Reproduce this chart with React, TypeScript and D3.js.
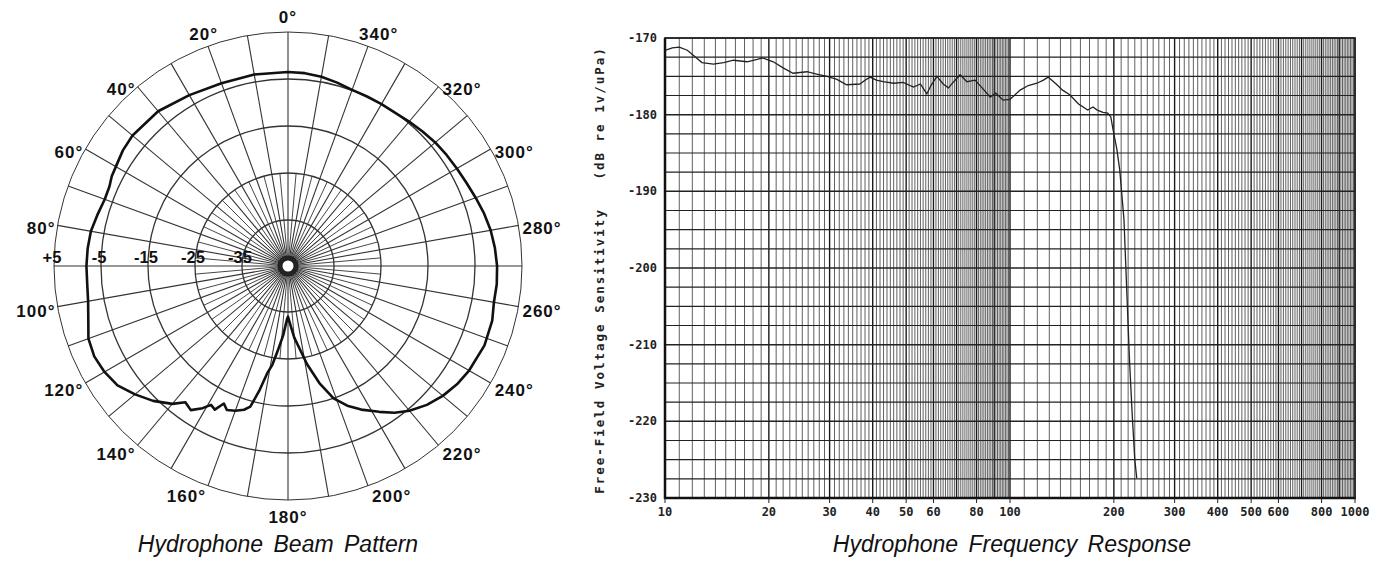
import React from 'react';
import * as d3 from 'd3';

// beam pattern: angle (deg, counter-clockwise from top) and level (dB)
const beamAngles = [0, 10, 20, 30, 40, 50, 55, 60, 63, 66, 70, 75, 80, 85, 90, 95, 100, 105, 110, 115, 120, 125, 130, 135, 140, 143, 146, 149, 151, 153, 155, 157, 160, 163, 165, 167, 169, 171, 173, 176, 179, 180, 182, 185, 188, 191, 195, 199, 203, 207, 212, 216, 220, 225, 230, 235, 240, 248, 255, 260, 265, 270, 275, 280, 285, 290, 295, 300, 305, 310, 315, 320, 325, 330, 335, 340, 345, 350, 355];
const beamLevels = [-3.5, -3.4, -3.4, -2.8, -1.8, -1.6, -1.9, -2.5, -2.7, -3.2, -3.3, -2.8, -2.2, -2.0, -1.9, -1.9, -1.6, -0.8, 0.4, 0.7, 0.3, -0.5, -2.3, -4.2, -6.5, -8.5, -7.8, -9.5, -11.0, -10.5, -12.5, -11.5, -12.0, -12.8, -13.8, -17.5, -21.5, -23.5, -26.5, -30.0, -33.5, -34.0, -32.5, -29.5, -27.0, -23.5, -19.0, -15.0, -12.5, -10.5, -8.2, -6.2, -4.6, -3.0, -1.8, -0.9, -0.3, 0.3, 0.2, -0.3, -0.2, -0.3, -0.6, -1.0, -1.6, -2.3, -2.9, -3.3, -3.6, -3.9, -4.3, -4.7, -5.0, -5.0, -5.0, -4.9, -4.4, -3.9, -3.6];
const ringLevels = [-35, -25, -15, -5, 5];
const ringLabels = ['-35', '-25', '-15', '-5', '+5'];
const angleLabels = [0, 20, 40, 60, 80, 100, 120, 140, 160, 180, 200, 220, 240, 260, 280, 300, 320, 340];

// frequency response
const freqHz = [10, 10.5, 11, 11.6, 12.2, 12.8, 13.8, 14.8, 15.8, 17.3, 18.5, 19.2, 20.6, 22, 23.5, 25.8, 27.5, 29.5, 31.5, 33.6, 36.7, 38, 39.3, 41, 42.9, 46, 49, 52.5, 55, 57.4, 59, 61.4, 64, 66.3, 69, 71.7, 75, 79.2, 83, 87.6, 91, 95.5, 100, 104, 107, 113, 119.7, 125, 129, 133, 136.8, 142, 149, 158, 168, 174, 179, 186, 192, 196, 199, 204, 208, 214, 218, 222, 226, 230, 233];
const sensitivity = [-171.6, -171.3, -171.2, -171.6, -172.4, -173.2, -173.4, -173.2, -172.9, -173.1, -172.8, -172.6, -173.1, -173.9, -174.6, -174.4, -174.7, -175.0, -175.4, -176.1, -176.0, -175.5, -175.1, -175.5, -175.7, -175.9, -175.8, -176.4, -176.0, -177.3, -176.2, -175.0, -176.0, -176.5, -175.6, -174.8, -175.7, -175.5, -176.5, -177.7, -177.2, -178.1, -178.0, -177.3, -176.8, -176.2, -175.9, -175.5, -175.1, -175.6, -176.1, -176.8, -177.4, -178.6, -179.4, -179.0, -179.4, -179.7, -179.8, -180.3, -182.0, -184.5, -187.2, -193.7, -203, -212, -219, -225, -227.4];
const yTicks = [-170, -180, -190, -200, -210, -220, -230];
const xTicks = [10, 20, 30, 40, 50, 60, 80, 100, 200, 300, 400, 500, 600, 800, 1000];

const W = 1383;
const H = 562;
const rad = (d: number) => (d * Math.PI) / 180;
const sans = 'Liberation Sans, Arial, sans-serif';
const mono = 'DejaVu Sans Mono, monospace';

const BeamPattern = () => {
  const cx = 288, cy = 266;
  const r = d3.scaleLinear().domain([-35, 5]).range([46, 234]);
  const outer = r(5);
  const inner5 = r(-25);
  const pt = (deg: number, rr: number) => [cx - rr * Math.sin(rad(deg)), cy - rr * Math.cos(rad(deg))];

  const rays10 = d3.range(0, 360, 10);
  const rays5 = d3.range(5, 360, 10);
  const data = beamAngles.map((a, i) => ({ a, v: beamLevels[i] }));
  const line = d3.lineRadial<{ a: number; v: number }>()
    .angle(d => -rad(d.a))
    .radius(d => r(d.v))
    .curve(d3.curveLinearClosed);

  // labels sit just outside the end of their ray
  const labelPos = (a: number) => {
    const [ex, ey] = pt(a, outer);
    if (a === 0) return { x: ex, y: ey - 15, anchor: 'middle' };
    if (a === 180) return { x: ex, y: ey + 17, anchor: 'middle' };
    const left = a < 180;
    const c = Math.cos(rad(a));
    if (a === 20 || a === 340) return { x: ex + (left ? 10 : -9), y: ey - 12, anchor: left ? 'end' : 'start' };
    const dy = 3 + 8 * Math.max(0, -c);
    return { x: ex + (left ? -2 : 4), y: ey + dy, anchor: left ? 'end' : 'start' };
  };

  return (
    <g>
      {ringLevels.map(v => (
        <circle key={v} cx={cx} cy={cy} r={r(v)} fill="none" stroke="#333" strokeWidth={v === 5 ? 1 : 1.3} />
      ))}
      {rays10.map(a => {
        const [x1, y1] = pt(a, 6);
        const [x2, y2] = pt(a, outer);
        return <line key={'a' + a} x1={x1} y1={y1} x2={x2} y2={y2} stroke="#333" strokeWidth={1.1} />;
      })}
      {rays5.map(a => {
        const [x1, y1] = pt(a, 6);
        const [x2, y2] = pt(a, inner5);
        return <line key={'b' + a} x1={x1} y1={y1} x2={x2} y2={y2} stroke="#333" strokeWidth={0.9} />;
      })}
      <circle cx={cx} cy={cy} r={8} fill="#fff" stroke="#222" strokeWidth={5} />
      <path d={line(data) || ''} transform={`translate(${cx},${cy})`} fill="none" stroke="#111" strokeWidth={2.6} strokeLinejoin="round" />
      {ringLevels.map((v, i) => (
        <text key={'rl' + v} x={cx - r(v) - 2} y={263} textAnchor="middle" fontFamily={sans} fontWeight="bold" fontSize={16.5} fill="#111">
          {ringLabels[i]}
        </text>
      ))}
      {angleLabels.map(a => {
        const p = labelPos(a);
        return (
          <text key={'al' + a} x={p.x} y={p.y} textAnchor={p.anchor} dominantBaseline="central" fontFamily={sans} fontWeight="bold" fontSize={17} letterSpacing={1} fill="#111">
            {a}°
          </text>
        );
      })}
      <text x={cx - 10} y={552} textAnchor="middle" fontFamily={sans} fontStyle="italic" fontSize={23} wordSpacing={4} fill="#111">
        Hydrophone Beam Pattern
      </text>
    </g>
  );
};

const FrequencyResponse = () => {
  const x = d3.scaleLog().domain([10, 1000]).range([665, 1355]);
  const y = d3.scaleLinear().domain([-170, -230]).range([38, 498]);

  const vLines: { f: number; major: boolean }[] = [];
  [10, 100].forEach(base => {
    const step = base / 10;
    d3.range(base, base * 10, step).forEach(f => {
      vLines.push({ f, major: Math.abs(f % base) < 1e-6 });
    });
  });
  vLines.push({ f: 1000, major: true });
  const hLines = d3.range(-170, -230.1, -2.5);

  const line = d3.line<number>()
    .x((_, i) => x(freqHz[i]))
    .y(d => y(d));

  return (
    <g>
      {vLines.map(({ f, major }) => (
        <line key={'v' + f} x1={x(f)} x2={x(f)} y1={38} y2={498} stroke={major ? '#1a1a1a' : '#444'} strokeWidth={major ? 1.4 : 0.85} />
      ))}
      {hLines.map(v => (
        <line key={'h' + v} x1={665} x2={1355} y1={y(v)} y2={y(v)} stroke="#222" strokeWidth={Math.abs(v % 10) < 1e-6 ? 1.5 : 1.2} />
      ))}
      <line x1={665} x2={665} y1={38} y2={499} stroke="#111" strokeWidth={2.5} />
      <line x1={664} x2={1356} y1={498} y2={498} stroke="#111" strokeWidth={2.5} />
      <line x1={664} x2={1356} y1={38} y2={38} stroke="#222" strokeWidth={1.6} />
      <line x1={1355} x2={1355} y1={38} y2={498} stroke="#222" strokeWidth={1.6} />
      <path d={line(sensitivity) || ''} fill="none" stroke="#222" strokeWidth={1.3} />
      {yTicks.map(v => (
        <text key={'yt' + v} x={657} y={y(v)} textAnchor="end" dominantBaseline="central" fontFamily={mono} fontWeight="bold" fontSize={12} fill="#222">
          {v}
        </text>
      ))}
      {xTicks.map(f => (
        <g key={'xt' + f}>
          <line x1={x(f)} x2={x(f)} y1={498} y2={503} stroke="#222" strokeWidth={1} />
          <text x={x(f)} y={512} textAnchor="middle" dominantBaseline="central" fontFamily={mono} fontWeight="bold" fontSize={12} fill="#222">
            {f}
          </text>
        </g>
      ))}
      <text transform="translate(599,270) rotate(-90)" textAnchor="middle" dominantBaseline="central" fontFamily={mono} fontWeight="bold" fontSize={12.5} letterSpacing={2} fill="#222" style={{ whiteSpace: 'pre' }}>
        {'Free-Field Voltage Sensitivity   (dB re 1v/uPa)'}
      </text>
      <text x={1012} y={552} textAnchor="middle" fontFamily={sans} fontStyle="italic" fontSize={23} wordSpacing={4} fill="#111">
        Hydrophone Frequency Response
      </text>
    </g>
  );
};

export default function App() {
  return (
    <svg width={W} height={H} viewBox={`0 0 ${W} ${H}`} style={{ position: 'absolute', left: 0, top: 0, background: '#fff' }}>
      <rect width={W} height={H} fill="#fff" />
      <BeamPattern />
      <FrequencyResponse />
    </svg>
  );
}
